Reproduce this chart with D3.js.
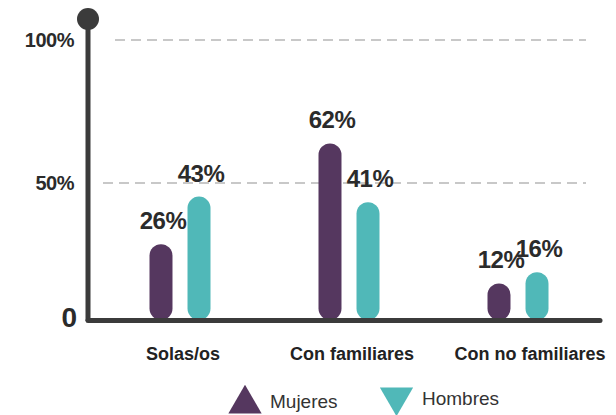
<!DOCTYPE html>
<html>
<head>
<meta charset="utf-8">
<script src="https://cdn.jsdelivr.net/npm/d3@7"></script>
<style>
  body { margin: 0; background: #fff; }
  svg text { font-family: "Liberation Sans", Arial, sans-serif; }
</style>
</head>
<body>
<div id="chart"></div>
<script>
var categories = ["Solas/os", "Con familiares", "Con no familiares"];
var series = ["Mujeres", "Hombres"];
var mujeres = [26, 62, 12];
var hombres = [43, 41, 16];
var gridTicks = [50, 100];

var colors = { Mujeres: "#55375f", Hombres: "#50b8b8" };
var axisColor = "#3b3b3b";
var textColor = "#2b2b2b";

var width = 616, height = 415;

var svg = d3.select("#chart").append("svg")
  .attr("width", width)
  .attr("height", height);

var y = d3.scaleLinear().domain([0, 100]).range([320, 40]);
var x = d3.scaleBand().domain(categories).range([95.5, 602.5]).paddingInner(0);
var xs = d3.scaleBand().domain(series).range([-30.5, 30.5]).paddingInner(0.395);

var rows = categories.map(function(c, i) {
  return { cat: c, values: [
    { key: "Mujeres", value: mujeres[i] },
    { key: "Hombres", value: hombres[i] }
  ]};
});

// dashed grid
svg.append("g").selectAll("line")
  .data(gridTicks)
  .enter().append("line")
    .attr("x1", function(d) { return d == 100 ? 115 : 103; })
    .attr("x2", 586)
    .attr("y1", function(d) { return y(d) + (d == 50 ? 3 : 0); })
    .attr("y2", function(d) { return y(d) + (d == 50 ? 3 : 0); })
    .attr("stroke", "#c8c8c8")
    .attr("stroke-width", 2)
    .attr("stroke-dasharray", "10,6");

// tick labels
svg.append("g").selectAll("text")
  .data(gridTicks)
  .enter().append("text")
    .attr("x", 74)
    .attr("y", function(d) { return y(d) + (d == 50 ? 3 : 0) + 7; })
    .attr("text-anchor", "end")
    .attr("font-size", 20)
    .attr("font-weight", "bold")
    .attr("letter-spacing", -0.5)
    .attr("fill", textColor)
    .text(function(d) { return d + "%"; });

svg.append("text")
  .attr("x", 77)
  .attr("y", y(0) + 7)
  .attr("text-anchor", "end")
  .attr("font-size", 28)
  .attr("font-weight", "bold")
  .attr("fill", textColor)
  .text("0");

// bars
var groups = svg.append("g").selectAll("g")
  .data(rows)
  .enter().append("g")
    .attr("transform", function(d) { return "translate(" + (x(d.cat) + x.bandwidth() / 2) + ",0)"; });

groups.selectAll("rect")
  .data(function(d) { return d.values; })
  .enter().append("rect")
    .attr("x", function(d) { return xs(d.key); })
    .attr("width", xs.bandwidth())
    .attr("y", function(d) { return y(d.value) - 3; })
    .attr("height", function(d) { return y(0) - y(d.value) + 3; })
    .attr("rx", xs.bandwidth() / 2)
    .attr("fill", function(d) { return colors[d.key]; });

groups.selectAll("text")
  .data(function(d) { return d.values; })
  .enter().append("text")
    .attr("x", function(d) { return xs(d.key) + xs.bandwidth() / 2 + 2; })
    .attr("y", function(d) { return y(d.value) - 18; })
    .attr("text-anchor", "middle")
    .attr("font-size", 24)
    .attr("font-weight", "bold")
    .attr("letter-spacing", -0.5)
    .attr("fill", textColor)
    .text(function(d) { return d.value + "%"; });

// axes
svg.append("line")
  .attr("x1", 88).attr("x2", 88)
  .attr("y1", 19).attr("y2", 321)
  .attr("stroke", axisColor)
  .attr("stroke-width", 5);

svg.append("line")
  .attr("x1", 88).attr("x2", 600)
  .attr("y1", 320.5).attr("y2", 320.5)
  .attr("stroke", axisColor)
  .attr("stroke-width", 5)
  .attr("stroke-linecap", "round");

svg.append("circle")
  .attr("cx", 88).attr("cy", 19).attr("r", 11)
  .attr("fill", axisColor);

// category labels
svg.append("g").selectAll("text")
  .data(categories)
  .enter().append("text")
    .attr("x", function(d, i) { return x(d) + x.bandwidth() / 2 + (i == 2 ? 12 : 3); })
    .attr("y", 360)
    .attr("text-anchor", "middle")
    .attr("font-size", 18)
    .attr("font-weight", "bold")
    .attr("fill", "#222")
    .text(function(d) { return d; });

// legend
var legend = svg.append("g");
var up = d3.symbol().type(d3.symbolTriangle).size(480);

legend.append("path")
  .attr("d", up())
  .attr("transform", "translate(245,404)")
  .attr("fill", colors.Mujeres);
legend.append("text")
  .attr("x", 270).attr("y", 408)
  .attr("font-size", 19)
  .attr("fill", "#333")
  .text("Mujeres");

legend.append("path")
  .attr("d", up())
  .attr("transform", "translate(396.5,397) rotate(180)")
  .attr("fill", colors.Hombres);
legend.append("text")
  .attr("x", 422).attr("y", 405)
  .attr("font-size", 19)
  .attr("fill", "#333")
  .text("Hombres");
</script>
</body>
</html>
